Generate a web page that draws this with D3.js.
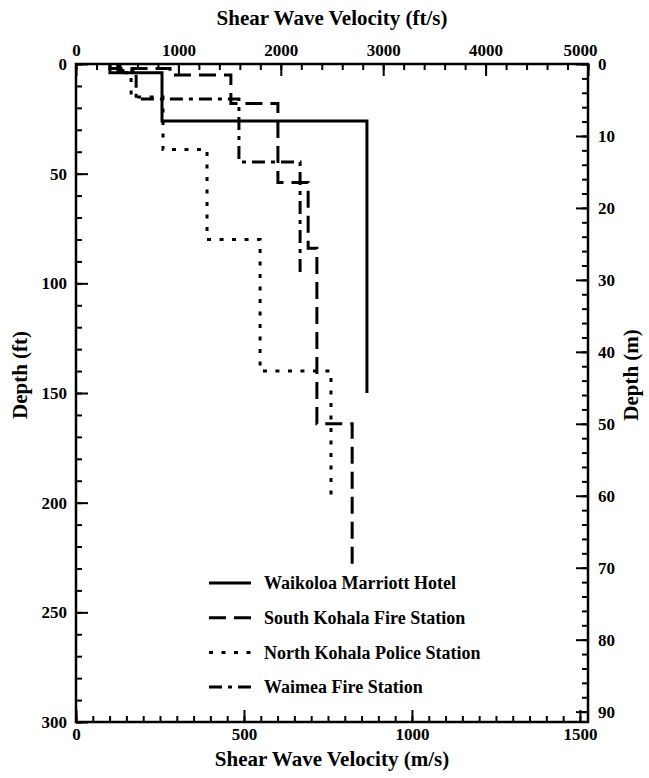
<!DOCTYPE html>
<html>
<head>
    <script src="https://d3js.org/d3.v7.min.js"></script>
    <style>
        body { margin: 0; background: #fff; }
        .tick text {
            font-family: "Liberation Serif", "Times New Roman", serif;
            font-weight: bold;
            font-size: 17px;
            fill: #000;
        }
        .tick line { stroke: #000; stroke-width: 2; }
        .axis-title {
            font-family: "Liberation Serif", "Times New Roman", serif;
            font-weight: bold;
            font-size: 21px;
            text-anchor: middle;
        }
        .legend text {
            font-family: "Liberation Serif", "Times New Roman", serif;
            font-weight: bold;
            font-size: 18px;
        }
        .profile { fill: none; stroke: #000; stroke-width: 3; }
    </style>
</head>
<body>
<svg width="649" height="778"></svg>
<script>
    // Station names (legend order)
    const stations = ["Waikoloa Marriott Hotel", "South Kohala Fire Station",
        "North Kohala Police Station", "Waimea Fire Station"];

    // Layer velocities (m/s) and layer boundaries (ft)
    const marriottVs = [101, 256, 866];
    const marriottDepth = [0, 4, 26, 150];

    const southKohalaVs = [101, 280, 461, 601, 691, 717, 822];
    const southKohalaDepth = [0, 2, 5, 18, 54, 84, 164, 228];

    const northKohalaVs = [131, 164, 259, 390, 548, 759];
    const northKohalaDepth = [0, 4, 15, 39, 80, 140, 200];

    const waimeaVs = [125, 179, 485, 667];
    const waimeaDepth = [0, 3, 16, 44.7, 97];

    // Axis tick labels
    const topTicks = [0, 1000, 2000, 3000, 4000, 5000];
    const bottomTicks = [0, 500, 1000, 1500];
    const leftTicks = [0, 50, 100, 150, 200, 250, 300];
    const rightTicks = [0, 10, 20, 30, 40, 50, 60, 70, 80, 90];

    const dashes = [null, "17,8", "4,8.5", "13,6,4,6"];

    const plot = {left: 76, right: 588, top: 64, bottom: 722};

    // scales: ft/s and m/s share the same range, ft and m share the same range
    const xFt = d3.scaleLinear().domain([0, 5000]).range([plot.left, plot.right]);
    const x = d3.scaleLinear().domain([0, 5000 * 0.3048]).range([plot.left, plot.right]);
    const y = d3.scaleLinear().domain([0, 300]).range([plot.top, plot.bottom]);
    const yM = d3.scaleLinear().domain([0, 300 * 0.3048]).range([plot.top, plot.bottom]);

    const svg = d3.select("svg");

    // minor ticks first, then major ticks with labels
    function addAxis(axisFn, scale, major, minor, transform, pad) {
        svg.append("g")
            .attr("transform", transform)
            .call(axisFn(scale).tickValues(minor).tickSize(-6).tickFormat(""))
            .call(g => g.select(".domain").remove());
        return svg.append("g")
            .attr("transform", transform)
            .call(axisFn(scale).tickValues(major).tickSize(-12).tickPadding(pad).tickFormat(d3.format("d")))
            .call(g => g.select(".domain").remove());
    }

    const topAxis = addAxis(d3.axisTop, xFt, topTicks, d3.range(0, 5001, 200), "translate(0," + plot.top + ")", 8);
    addAxis(d3.axisBottom, x, bottomTicks, d3.range(0, 1501, 50), "translate(0," + plot.bottom + ")", 6);
    addAxis(d3.axisLeft, y, leftTicks, d3.range(0, 301, 10), "translate(" + plot.left + ",0)", 9);
    addAxis(d3.axisRight, yM, rightTicks, d3.range(0, 91, 2), "translate(" + plot.right + ",0)", 10);

    // last top label sits a little left of its tick
    topAxis.selectAll(".tick text").filter(d => d === 5000).attr("dx", -8);

    // frame
    svg.append("rect")
        .attr("x", plot.left)
        .attr("y", plot.top)
        .attr("width", plot.right - plot.left)
        .attr("height", plot.bottom - plot.top)
        .attr("fill", "none")
        .attr("stroke", "#000")
        .attr("stroke-width", 2.5);

    // step profiles
    function steps(vs, depth) {
        const pts = [];
        vs.forEach((v, i) => {
            pts.push([v, depth[i]]);
            pts.push([v, depth[i + 1]]);
        });
        return pts;
    }

    const profiles = [
        steps(marriottVs, marriottDepth),
        steps(southKohalaVs, southKohalaDepth),
        steps(northKohalaVs, northKohalaDepth),
        steps(waimeaVs, waimeaDepth)
    ];

    const line = d3.line()
        .x(d => x(d[0]))
        .y(d => y(d[1]));

    profiles.forEach((p, i) => {
        svg.append("path")
            .datum(p)
            .attr("class", "profile")
            .attr("stroke-dasharray", dashes[i])
            .attr("d", line);
    });

    // axis titles
    svg.append("text")
        .attr("class", "axis-title")
        .attr("x", (plot.left + plot.right) / 2)
        .attr("y", 25)
        .text("Shear Wave Velocity (ft/s)");

    svg.append("text")
        .attr("class", "axis-title")
        .attr("x", (plot.left + plot.right) / 2)
        .attr("y", 766)
        .text("Shear Wave Velocity (m/s)");

    svg.append("text")
        .attr("class", "axis-title")
        .attr("transform", "translate(27,375) rotate(-90)")
        .text("Depth (ft)");

    svg.append("text")
        .attr("class", "axis-title")
        .attr("transform", "translate(638,375) rotate(-90)")
        .text("Depth (m)");

    // legend
    const legend = svg.selectAll(".legend")
        .data(stations)
        .enter().append("g")
        .attr("class", "legend")
        .attr("transform", (d, i) => "translate(209," + (583 + i * 34.7) + ")");

    legend.append("line")
        .attr("x1", 0)
        .attr("x2", 42)
        .attr("stroke", "#000")
        .attr("stroke-width", 3)
        .attr("stroke-dasharray", (d, i) => dashes[i]);

    legend.append("text")
        .attr("x", 55)
        .attr("dy", ".35em")
        .text(d => d);
</script>
</body>
</html>
